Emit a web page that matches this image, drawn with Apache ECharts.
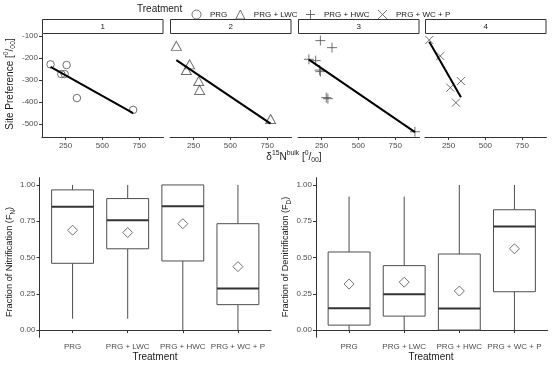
<!DOCTYPE html>
<html><head><meta charset="utf-8">
<script src="https://cdn.jsdelivr.net/npm/echarts@6/dist/echarts.min.js"></script>
<style>html,body{margin:0;padding:0;background:#fff}#c{width:554px;height:365px}</style>
</head><body><div id="c"></div>
<script>
// ---------- data ----------
const treatments = ['PRG', 'PRG + LWC', 'PRG + HWC', 'PRG + WC + P'];
const panels = ['1', '2', '3', '4'];
const spTicks = [-500, -400, -300, -200, -100];
const dnTicks = [250, 500, 750];
const fracTicks = [0, 0.25, 0.5, 0.75, 1];

const prgX = [148, 221, 244, 257, 327, 709];
const prgY = [-229, -273, -273, -232, -382, -436];
const lwcX = [133, 223, 201, 285, 291, 773];
const lwcY = [-145, -229, -255, -305, -345, -477];
const hwcX = [242, 321, 164, 210, 237, 242, 282, 293, 884];
const hwcY = [-121, -153, -206, -212, -255, -262, -380, -385, -535];
const wcpX = [119, 194, 334, 262, 300];
const wcpY = [-118, -191, -305, -335, -403];

// boxplot stats: [min, q1, median, q3, max]
const fnPRG = [0.078, 0.46, 0.85, 0.966, 1.00];
const fnLWC = [0.078, 0.56, 0.756, 0.906, 1.00];
const fnHWC = [0.0, 0.476, 0.854, 1.00, 1.00];
const fnWCP = [0.0, 0.175, 0.287, 0.733, 1.00];
const fnMean = [0.688, 0.672, 0.733, 0.437];
const fdPRG = [0.0, 0.034, 0.15, 0.538, 0.92];
const fdLWC = [0.0, 0.096, 0.246, 0.444, 0.92];
const fdHWC = [0.0, 0.0, 0.148, 0.524, 1.00];
const fdWCP = [0.0, 0.264, 0.713, 0.829, 1.00];
const fdMean = [0.317, 0.33, 0.269, 0.56];

// ---------- helpers ----------
const FONT = 'Liberation Sans, Arial, sans-serif';
const AX = '#333';
const LBL = '#4d4d4d';
const MK = '#4d4d4d';

function lmLine(xs, ys) {
  const n = xs.length;
  const mx = xs.reduce((a, b) => a + b, 0) / n;
  const my = ys.reduce((a, b) => a + b, 0) / n;
  let sxy = 0, sxx = 0;
  for (let i = 0; i < n; i++) { sxy += (xs[i] - mx) * (ys[i] - my); sxx += (xs[i] - mx) ** 2; }
  const b = sxy / sxx, a = my - b * mx;
  const x0 = Math.min(...xs), x1 = Math.max(...xs);
  return [[x0, a + b * x0], [x1, a + b * x1]];
}
const zip = (xs, ys) => xs.map((x, i) => [x, ys[i]]);

const groupsX = [prgX, lwcX, hwcX, wcpX];
const groupsY = [prgY, lwcY, hwcY, wcpY];
const symbols = ['circle', 'triangle', 'path://M0,5L10,5M5,0L5,10', 'path://M0,0L10,10M10,0L0,10'];
const symSizes = [7.5, [10, 9], 10, 8];

const topLefts = [42, 170, 298, 425];
const topW = 121.5, topTop = 34, topH = 103;

const grids = [], xAxes = [], yAxes = [], series = [], graphics = [];

topLefts.forEach((l, i) => {
  grids.push({ left: l, top: topTop, width: topW, height: topH });
  xAxes.push({
    type: 'value', gridIndex: i, min: 90, max: 915,
    axisLine: { show: true, lineStyle: { color: AX, width: 1 } },
    axisTick: { show: true, length: 3, lineStyle: { color: AX }, customValues: dnTicks },
    axisLabel: { color: LBL, fontSize: 8, fontFamily: FONT, margin: 5, customValues: dnTicks },
    splitLine: { show: false }
  });
  yAxes.push({
    type: 'value', gridIndex: i, min: -559, max: -91,
    show: i === 0,
    axisLine: { show: true, lineStyle: { color: AX, width: 1 } },
    axisTick: { show: true, length: 3, lineStyle: { color: AX }, customValues: spTicks },
    axisLabel: { color: LBL, fontSize: 8, fontFamily: FONT, margin: 4, customValues: spTicks },
    splitLine: { show: false }
  });
  series.push({
    name: treatments[i], type: 'scatter', xAxisIndex: i, yAxisIndex: i,
    data: zip(groupsX[i], groupsY[i]),
    symbol: symbols[i], symbolSize: symSizes[i],
    itemStyle: { color: 'rgba(0,0,0,0)', borderColor: MK, borderWidth: 1 },
    z: 3
  });
  series.push({
    name: 'fit' + i, type: 'line', xAxisIndex: i, yAxisIndex: i,
    data: lmLine(groupsX[i], groupsY[i]), showSymbol: false, silent: true,
    lineStyle: { color: '#000', width: 2 }, z: 4
  });
  graphics.push({
    type: 'rect', shape: { x: l + 0.5, y: 19.5, width: topW - 1, height: 14 },
    style: { fill: '#fff', stroke: '#333', lineWidth: 1 }
  });
  graphics.push({
    type: 'text', x: l + topW / 2, y: 26.5,
    style: { text: panels[i], fontSize: 8, fontFamily: FONT, fill: '#1a1a1a', align: 'center', verticalAlign: 'middle' }
  });
});

// bottom boxplots
const BOX_W = 0.76;
const botGrids = [{ left: 39.5, width: 231.5 }, { left: 316, width: 231.5 }];
const boxSets = [[fnPRG, fnLWC, fnHWC, fnWCP], [fdPRG, fdLWC, fdHWC, fdWCP]];
const means = [fnMean, fdMean];

function renderBox(params, api) {
  const x = api.value(0);
  const pMin = api.coord([x, api.value(1)]);
  const pQ1 = api.coord([x, api.value(2)]);
  const pMed = api.coord([x, api.value(3)]);
  const pQ3 = api.coord([x, api.value(4)]);
  const pMax = api.coord([x, api.value(5)]);
  const half = api.size([BOX_W, 0])[0] / 2;
  const st = { stroke: '#4d4d4d', lineWidth: 1, fill: null };
  return {
    type: 'group', children: [
      { type: 'line', shape: { x1: pMin[0], y1: pMin[1], x2: pQ1[0], y2: pQ1[1] }, style: st },
      { type: 'line', shape: { x1: pQ3[0], y1: pQ3[1], x2: pMax[0], y2: pMax[1] }, style: st },
      { type: 'rect', shape: { x: pQ3[0] - half, y: pQ3[1], width: half * 2, height: pQ1[1] - pQ3[1] }, style: { stroke: '#4d4d4d', lineWidth: 1, fill: '#fff' } },
      { type: 'line', shape: { x1: pMed[0] - half, y1: pMed[1], x2: pMed[0] + half, y2: pMed[1] }, style: { stroke: '#333', lineWidth: 2 } }
    ]
  };
}

botGrids.forEach((g, k) => {
  const gi = 4 + k;
  grids.push({ left: g.left, top: 177.7, width: g.width, height: 159.6 });
  xAxes.push({
    type: 'value', gridIndex: gi, min: 0.4, max: 4.6,
    axisLine: { show: true, lineStyle: { color: AX, width: 1 } },
    axisTick: { show: true, length: 3, lineStyle: { color: AX }, customValues: [1, 2, 3, 4] },
    axisLabel: { color: LBL, fontSize: 8, fontFamily: FONT, margin: 5, customValues: [1, 2, 3, 4], formatter: v => treatments[Math.round(v) - 1] },
    splitLine: { show: false }
  });
  yAxes.push({
    type: 'value', gridIndex: gi, min: -0.05, max: 1.05,
    axisLine: { show: true, lineStyle: { color: AX, width: 1 } },
    axisTick: { show: true, length: 3, lineStyle: { color: AX }, customValues: fracTicks },
    axisLabel: { color: LBL, fontSize: 8, fontFamily: FONT, margin: 4, customValues: fracTicks, formatter: v => v.toFixed(2) },
    splitLine: { show: false }
  });
  series.push({
    type: 'custom', xAxisIndex: gi, yAxisIndex: gi, renderItem: renderBox,
    encode: { x: 0, y: [1, 2, 3, 4, 5] },
    data: boxSets[k].map((s, i) => [i + 1].concat(s)), silent: true, z: 2
  });
  series.push({
    type: 'scatter', name: 'mean' + k, xAxisIndex: gi, yAxisIndex: gi,
    data: means[k].map((m, i) => [i + 1, m]),
    symbol: 'diamond', symbolSize: 10,
    itemStyle: { color: 'rgba(0,0,0,0)', borderColor: '#4d4d4d', borderWidth: 1 }, z: 5, silent: true
  });
});

// titles
function mkRich(fs) {
  const sfs = Math.round(fs * 0.68 * 10) / 10;
  return {
    b: { fontSize: fs, fontFamily: FONT, fill: '#1a1a1a', lineHeight: 14 },
    sup: { fontSize: sfs, fontFamily: FONT, fill: '#1a1a1a', verticalAlign: 'top', lineHeight: 14 },
    sub: { fontSize: sfs, fontFamily: FONT, fill: '#1a1a1a', verticalAlign: 'bottom', lineHeight: 14 }
  };
}
function t(x, y, text, rot, fs) {
  fs = fs || 10;
  return {
    type: 'text', x: x, y: y, rotation: rot || 0,
    style: { text: text, rich: mkRich(fs), fontSize: fs, fontFamily: FONT, fill: '#1a1a1a', align: 'center', verticalAlign: 'middle' }
  };
}
graphics.push(t(10, 84, '{b|Site Preference [}{sup|0}{b|/}{sub|00}{b|]}', Math.PI / 2));
graphics.push(t(294, 157, '{b|δ}{sup|15}{b|N}{sup|bulk}{b| [}{sup|0}{b|/}{sub|00}{b|]}'));
graphics.push(t(9, 262, '{b|Fraction of Nitrification (F}{sub|N}{b|)}', Math.PI / 2, 9.2));
graphics.push(t(285, 257, '{b|Fraction of Denitrification (F}{sub|D}{b|)}', Math.PI / 2, 9.2));
graphics.push(t(155, 357, '{b|Treatment}'));
graphics.push(t(431, 357, '{b|Treatment}'));
graphics.push({
  type: 'text', x: 137, y: 9,
  style: { text: 'Treatment', fontSize: 10, fontFamily: FONT, fill: '#1a1a1a', align: 'left', verticalAlign: 'middle' }
});

const chart = echarts.init(document.getElementById('c'), null, { renderer: 'canvas' });
chart.setOption({
  animation: false,
  backgroundColor: '#fff',
  legend: {
    data: treatments, left: 186.5, top: 4.5, itemWidth: 9, itemHeight: 9, itemGap: 8,
    selectedMode: false,
    itemStyle: { borderWidth: 1, borderColor: MK, color: 'rgba(0,0,0,0)' },
    textStyle: { fontSize: 8, fontFamily: FONT, color: '#1a1a1a', padding: [0, 0, 0, 4] }
  },
  grid: grids, xAxis: xAxes, yAxis: yAxes, series: series, graphic: graphics
});
</script></body></html>
